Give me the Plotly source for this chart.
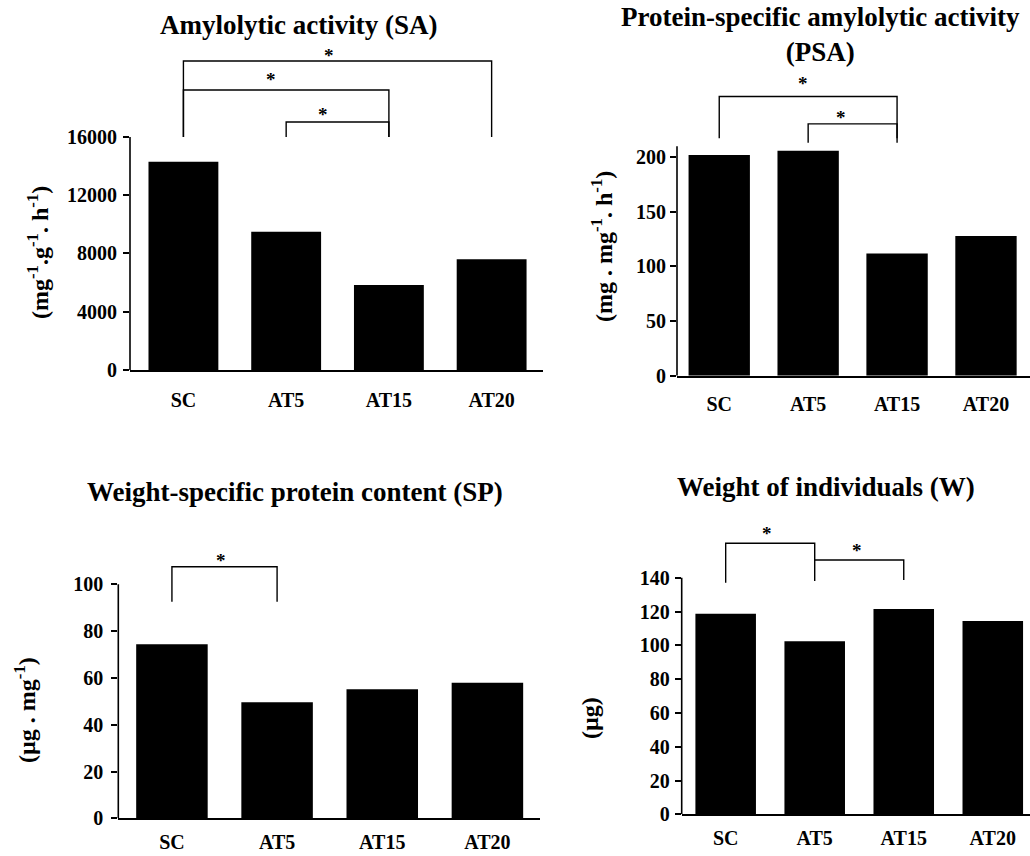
import plotly.graph_objects as go

# ---------------- data ----------------
categories = ["SC", "AT5", "AT15", "AT20"]

sa_values = [14300, 9500, 5840, 7600]      # Amylolytic activity (SA)
psa_values = [202, 206, 112, 128]           # Protein-specific amylolytic activity (PSA)
sp_values = [74.4, 49.6, 55.1, 57.9]        # Weight-specific protein content (SP)
w_values = [118.7, 102.4, 121.5, 114.4]     # Weight of individuals (W)

sa_ticks = [0, 4000, 8000, 12000, 16000]
psa_ticks = [0, 50, 100, 150, 200]
sp_ticks = [0, 20, 40, 60, 80, 100]
w_ticks = [0, 20, 40, 60, 80, 100, 120, 140]

# significance brackets: (from category, to category, bar height, left foot, right foot)
sa_brackets = [("SC", "AT20", 21220, 16000, 16000),
               ("SC", "AT15", 19230, 16000, 16000),
               ("AT5", "AT15", 17030, 16000, 16000)]
psa_brackets = [("SC", "AT15", 255.6, 217.5, 217.5),
                ("AT5", "AT15", 230.6, 213.2, 213.2)]
sp_brackets = [("SC", "AT5", 107.5, 92.5, 92.5)]
w_brackets = [("SC", "AT5", 160.4, 137.0, 138.0),
              ("AT5", "AT15", 150.5, 150.5, 138.6)]

# star positions: (x in category units, y in data units)
sa_stars = [(1.42, 21840), (0.85, 20190), (1.36, 17850)]
psa_stars = [(0.94, 271.5), (1.37, 240.3)]
sp_stars = [(0.47, 112.0)]
w_stars = [(0.46, 168.6), (1.48, 158.4)]

titles = ["Amylolytic activity (SA)",
          "Protein-specific amylolytic activity<br>(PSA)",
          "Weight-specific protein content (SP)",
          "Weight of individuals (W)"]
ytitles = ["(mg<sup>-1</sup>.g<sup>-1</sup>. h<sup>-1</sup>)",
           "(mg . mg<sup>-1</sup>. h<sup>-1</sup>)",
           "(µg . mg<sup>-1</sup>)",
           "(µg)"]

# ---------------- layout geometry ----------------
W, H = 1030, 856
FONT = "Liberation Serif"

panels = [
    dict(vals=sa_values, ticks=sa_ticks, brackets=sa_brackets, stars=sa_stars,
         xdom=[130 / W, 543 / W], ydom=[0.56776, 0.95054], xr=[-0.52, 3.5], yr=[0, 22500],
         axtop=16000, bw=0.68, title_xy=(298, 25), ytitle_xy=(38, 253), ystand=2, xstand=11),
    dict(vals=psa_values, ticks=psa_ticks, brackets=psa_brackets, stars=psa_stars,
         xdom=[677 / W, 1.0], ydom=[0.5611, 0.9311], xr=[-0.475, 3.495], yr=[0, 290],
         axtop=210, bw=0.69, title_xy=(820, 35), ytitle_xy=(602, 247), ystand=0, xstand=10),
    dict(vals=sp_values, ticks=sp_ticks, brackets=sp_brackets, stars=sp_stars,
         xdom=[118.3 / W, 540 / W], ydom=[0.04404, 0.3666], xr=[-0.51, 3.5], yr=[0, 118],
         axtop=100, bw=0.68, title_xy=(295, 492), ytitle_xy=(25, 710), ystand=4, xstand=5),
    dict(vals=w_values, ticks=w_ticks, brackets=w_brackets, stars=w_stars,
         xdom=[681.7 / W, 1.0], ydom=[0.0487, 0.4001], xr=[-0.494, 3.418], yr=[0, 178],
         axtop=140, bw=0.68, title_xy=(826, 487), ytitle_xy=(590, 718), ystand=1, xstand=5),
]

fig = go.Figure()
shapes = []
annotations = []
layout = dict(
    template="none",
    width=W, height=H,
    margin=dict(l=0, r=0, t=0, b=0, pad=0, autoexpand=False),
    paper_bgcolor="white", plot_bgcolor="white",
    showlegend=False,
    font=dict(family=FONT, color="black"),
)

for i, p in enumerate(panels):
    n = "" if i == 0 else str(i + 1)
    xa, ya = "x" + n, "y" + n
    fig.add_trace(go.Bar(x=categories, y=p["vals"], xaxis=xa, yaxis=ya,
                         width=p["bw"], marker=dict(color="black", line=dict(width=0)),
                         hoverinfo="skip"))
    layout["xaxis" + n] = dict(
        domain=p["xdom"], anchor=ya, range=p["xr"], type="category",
        showline=True, linecolor="black", linewidth=1.6, ticks="",
        showgrid=False, zeroline=False, ticklabelstandoff=p["xstand"], automargin=False,
        tickfont=dict(family=FONT, size=20, color="black", weight="bold"),
    )
    layout["yaxis" + n] = dict(
        domain=p["ydom"], anchor=xa, range=p["yr"],
        showline=False, showgrid=False, zeroline=False, automargin=False,
        tickmode="array", tickvals=p["ticks"], ticktext=[str(t) for t in p["ticks"]],
        ticks="outside", ticklen=6, tickwidth=1.5, tickcolor="black",
        ticklabelstandoff=p["ystand"],
        tickfont=dict(family=FONT, size=20, color="black", weight="bold"),
    )
    # visible y axis line (only up to the top tick)
    shapes.append(dict(type="line", xref=xa + " domain", yref=ya, x0=0, x1=0,
                       y0=0, y1=p["axtop"], line=dict(color="black", width=1.6)))
    # brackets
    for (c0, c1, yb, f0, f1) in p["brackets"]:
        i0, i1 = categories.index(c0), categories.index(c1)
        shapes.append(dict(type="path", xref=xa, yref=ya,
                           path=f"M {i0},{f0} L {i0},{yb} L {i1},{yb} L {i1},{f1}",
                           line=dict(color="black", width=1.4)))
    for (sx, sy) in p["stars"]:
        annotations.append(dict(x=sx, y=sy, xref=xa, yref=ya, text="*", showarrow=False,
                                font=dict(family=FONT, size=19, color="black", weight="bold"),
                                yanchor="middle", yshift=-4))
    # panel title
    tx, ty = p["title_xy"]
    annotations.append(dict(x=tx / W, y=1 - ty / H, xref="paper", yref="paper",
                            text=titles[i], showarrow=False, xanchor="center", yanchor="middle",
                            font=dict(family=FONT, size=27, color="black", weight="bold")))
    # y axis title
    yx, yy = p["ytitle_xy"]
    annotations.append(dict(x=yx / W, y=1 - yy / H, xref="paper", yref="paper",
                            text=ytitles[i], showarrow=False, textangle=-90,
                            xanchor="center", yanchor="middle",
                            font=dict(family=FONT, size=24, color="black", weight="bold")))

layout["shapes"] = shapes
layout["annotations"] = annotations
fig.update_layout(**layout)
fig.write_html("out.html", config={"displayModeBar": False},
               post_script="document.body.style.margin='0';")
